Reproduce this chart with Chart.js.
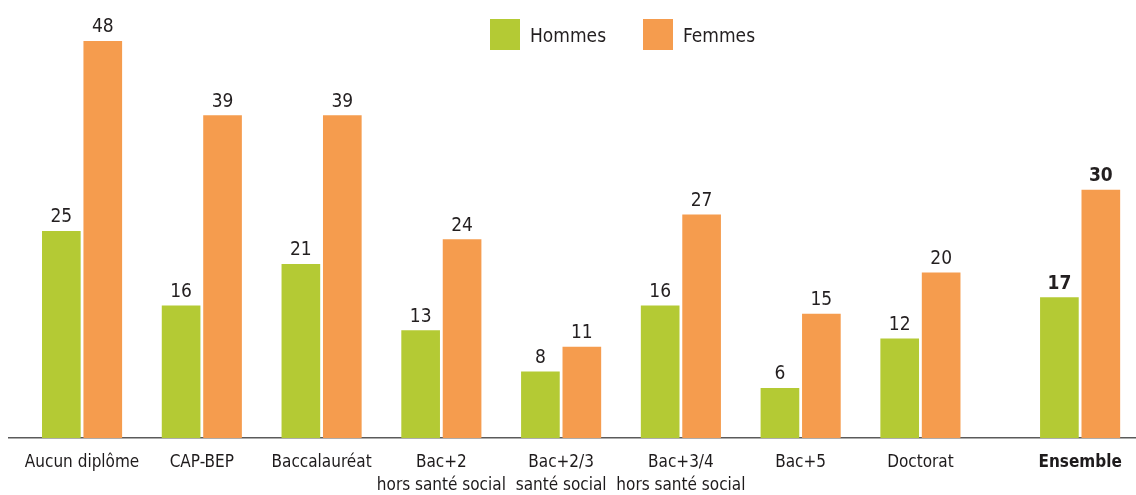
<!DOCTYPE html>
<html>
<head>
<meta charset="utf-8">
<script src="https://cdn.jsdelivr.net/npm/chart.js@4"></script>
<style>
  html, body { margin: 0; padding: 0; background: #fff; }
  #wrap { width: 1136px; height: 495px; }
</style>
</head>
<body>
<div id="wrap"><canvas id="chart" width="1136" height="495"></canvas></div>
<script>
// categories (multi-line labels)
const categories = [
  ["Aucun diplôme"],
  ["CAP-BEP"],
  ["Baccalauréat"],
  ["Bac+2", "hors santé social"],
  ["Bac+2/3", "santé social"],
  ["Bac+3/4", "hors santé social"],
  ["Bac+5"],
  ["Doctorat"],
  ["Ensemble"]
];
const hommes = [25, 16, 21, 13, 8, 16, 6, 12, 17];
const femmes = [48, 39, 39, 24, 11, 27, 15, 20, 30];
const seriesNames = ["Hommes", "Femmes"];

const GREEN = "#b4ca34";
const ORANGE = "#f59c4e";
const FONT = "'Liberation Sans Narrow', 'DejaVu Sans Condensed', sans-serif";

// group centres on the x axis: "Ensemble" is set a bit apart from the others
const last = categories.length - 1;
const positions = categories.map((c, i) => (i === last ? i + 1 / 3 : i));
const OFF = 0.173; // half distance between the two bars of a group

// value labels above the bars
const valueLabels = {
  id: "valueLabels",
  afterDatasetsDraw(chart) {
    const ctx = chart.ctx;
    ctx.save();
    ctx.fillStyle = "#231f20";
    ctx.textAlign = "center";
    ctx.textBaseline = "alphabetic";
    chart.data.datasets.forEach((ds, di) => {
      const meta = chart.getDatasetMeta(di);
      meta.data.forEach((bar, i) => {
        ctx.font = (i === last ? "bold " : "") + "19px " + FONT;
        ctx.fillText(String(ds.data[i].y), bar.x, bar.y - 9);
      });
    });
    ctx.restore();
  }
};

// legend drawn over the chart area, as in the original
const customLegend = {
  id: "customLegend",
  afterDraw(chart) {
    const ctx = chart.ctx;
    const items = [
      { x: 490, color: GREEN, text: seriesNames[0] },
      { x: 643, color: ORANGE, text: seriesNames[1] }
    ];
    ctx.save();
    ctx.font = "19px " + FONT;
    ctx.textBaseline = "alphabetic";
    ctx.textAlign = "left";
    items.forEach((it) => {
      ctx.fillStyle = it.color;
      ctx.fillRect(it.x, 19, 30, 31);
      ctx.fillStyle = "#231f20";
      ctx.fillText(it.text, it.x + 40, 42);
    });
    ctx.restore();
  }
};

new Chart(document.getElementById("chart"), {
  type: "bar",
  data: {
    datasets: [
      {
        label: seriesNames[0],
        data: hommes.map((v, i) => ({ x: positions[i] - OFF, y: v })),
        backgroundColor: GREEN,
        grouped: false,
        barThickness: 38
      },
      {
        label: seriesNames[1],
        data: femmes.map((v, i) => ({ x: positions[i] + OFF, y: v })),
        backgroundColor: ORANGE,
        grouped: false,
        barThickness: 38
      }
    ]
  },
  options: {
    responsive: false,
    animation: false,
    layout: { padding: { left: 9, right: 0, top: 0, bottom: 0 } },
    plugins: {
      legend: { display: false },
      tooltip: { enabled: false }
    },
    scales: {
      x: {
        type: "linear",
        min: -0.61,
        max: 8.8,
        bounds: "data",
        offset: false,
        grid: { display: false, drawTicks: false },
        border: { display: true, color: "#5a5a5a", width: 1.5 },
        afterBuildTicks: (scale) => {
          scale.ticks = positions.map((p) => ({ value: p }));
        },
        afterFit: (scale) => {
          scale.height = 57;
          scale.paddingLeft = 0;
          scale.paddingRight = 0;
        },
        ticks: {
          autoSkip: false,
          maxRotation: 0,
          padding: 13,
          color: "#1e1b1c",
          font: (c) => ({
            family: FONT,
            size: 17,
            lineHeight: 1.35,
            weight: c.index === last ? "bold" : "normal"
          }),
          callback: (value, index) => categories[index]
        }
      },
      y: {
        display: false,
        min: 0,
        max: 53
      }
    }
  },
  plugins: [valueLabels, customLegend]
});
</script>
</body>
</html>
